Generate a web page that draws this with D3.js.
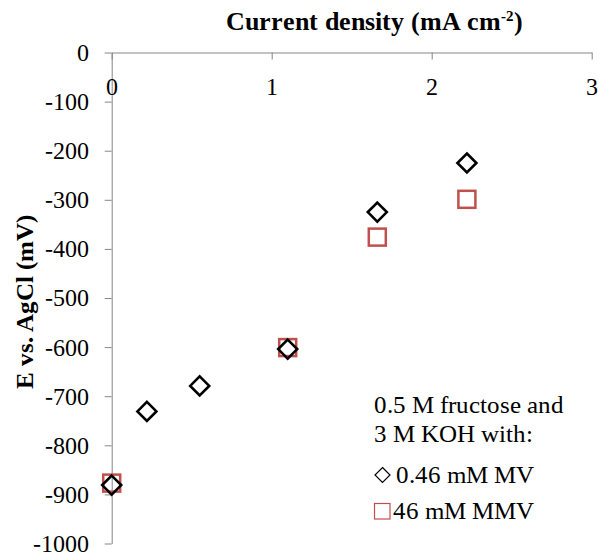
<!DOCTYPE html>
<html>
<head>
<meta charset="utf-8">
<script src="https://cdn.jsdelivr.net/npm/d3@7"></script>
<style>
  @font-face { font-family: "TNRLocal"; src: local("Liberation Serif"), local("LiberationSerif"); font-weight: 100 500; font-style: normal; }
  @font-face { font-family: "TNRLocal"; src: local("Liberation Serif Bold"), local("LiberationSerif-Bold"); font-weight: 600 900; font-style: normal; }
  html, body { margin: 0; padding: 0; background: #fff; }
  svg { display: block; font-family: "TNRLocal", "Liberation Serif", "Times New Roman", serif; }
</style>
</head>
<body>
<svg id="chart" width="598" height="552"></svg>
<script>
// ---- data ----
const mvX = [0, 0.22, 0.55, 1.10, 1.66, 2.22];
const mvY = [-881, -731, -679, -604, -325, -225];
const mmvX = [0, 1.10, 1.66, 2.22];
const mmvY = [-877, -601, -376, -299];
const xTicks = [0, 1, 2, 3];
const yTicks = [0, -100, -200, -300, -400, -500, -600, -700, -800, -900, -1000];
const xTitle = "Current density (mA cm";
const xTitleSup = "-2";
const yTitle = "E vs. AgCl (mV)";
const legendHeader = ["0.5 M fructose and", "3 M KOH with:"];
const seriesNames = ["0.46 mM MV", "46 mM MMV"];

// ---- layout ----
const svg = d3.select("#chart");
const x = d3.scaleLinear().domain([0, 3]).range([111.7, 591.7]);
const y = d3.scaleLinear().domain([-1000, 0]).range([543.5, 52.5]);
const axisColor = "#868686";
const red = "#C0504D";
const fmt = d => String(d);
const fam = '"TNRLocal", "Liberation Serif", serif';
const regular = "500";

// y axis
const gy = svg.append("g").attr("transform", `translate(${x(0)},0)`)
  .call(d3.axisLeft(y).tickValues(yTicks).tickSize(7).tickSizeOuter(0).tickPadding(16)
    .tickFormat(fmt));
gy.attr("font-family", null);
gy.select(".domain").attr("stroke", axisColor);
gy.selectAll(".tick line").attr("stroke", axisColor);
gy.selectAll(".tick text").attr("fill", "#000").style("font-size", "24px")
  .style("font-weight", regular).style("font-family", fam).attr("dy", "0.33em");

// x axis (at y = 0, ticks pointing down)
const gx = svg.append("g").attr("transform", `translate(0,${y(0)})`)
  .call(d3.axisBottom(x).tickValues(xTicks).tickSize(7).tickSizeOuter(0).tickPadding(18)
    .tickFormat(fmt));
gx.attr("font-family", null);
gx.select(".domain").attr("stroke", axisColor);
gx.selectAll(".tick line").attr("stroke", axisColor);
gx.selectAll(".tick text").attr("fill", "#000").style("font-size", "24px")
  .style("font-weight", regular).style("font-family", fam);

// x title
const t = svg.append("text").attr("x", 226).attr("y", 30)
  .style("font-size", "25.5px").style("font-weight", "bold").attr("fill", "#000");
t.append("tspan").text(xTitle);
t.append("tspan").text(xTitleSup).style("font-size", "15px").attr("dy", -9);
t.append("tspan").text(")").attr("dy", 9);

// y title
svg.append("text").attr("transform", "translate(33,302) rotate(-90)")
  .attr("text-anchor", "middle").style("font-size", "25px").style("font-weight", "bold")
  .attr("fill", "#000").text(yTitle);

// markers
const sq = 17;
svg.append("g").selectAll("rect").data(mmvX.map((v, i) => [v, mmvY[i]])).join("rect")
  .attr("x", d => x(d[0]) - sq / 2).attr("y", d => y(d[1]) - sq / 2)
  .attr("width", sq).attr("height", sq)
  .attr("fill", "none").attr("stroke", red).attr("stroke-width", 2.5);

const dr = 9.5;
const diamond = (cx, cy, r) => `M${cx},${cy - r}L${cx + r},${cy}L${cx},${cy + r}L${cx - r},${cy}Z`;
svg.append("g").selectAll("path").data(mvX.map((v, i) => [v, mvY[i]])).join("path")
  .attr("d", d => diamond(x(d[0]), y(d[1]), dr))
  .attr("fill", "none").attr("stroke", "#000").attr("stroke-width", 2.6);

// legend
const lg = svg.append("g").style("font-size", "25px").style("font-weight", regular)
  .style("font-family", fam).attr("fill", "#000");
lg.append("text").attr("x", 374).attr("y", 413).text(legendHeader[0]);
lg.append("text").attr("x", 374).attr("y", 442).text(legendHeader[1]);
lg.append("path").attr("d", diamond(382.5, 475, 7.5)).attr("fill", "none")
  .attr("stroke", "#000").attr("stroke-width", 1.2);
lg.append("text").attr("x", 396).attr("y", 483).text(seriesNames[0]);
lg.append("rect").attr("x", 374.5).attr("y", 503.5).attr("width", 15.5).attr("height", 15.5)
  .attr("fill", "none").attr("stroke", red).attr("stroke-width", 1.2);
lg.append("text").attr("x", 393).attr("y", 519).text(seriesNames[1]);
</script>
</body>
</html>
